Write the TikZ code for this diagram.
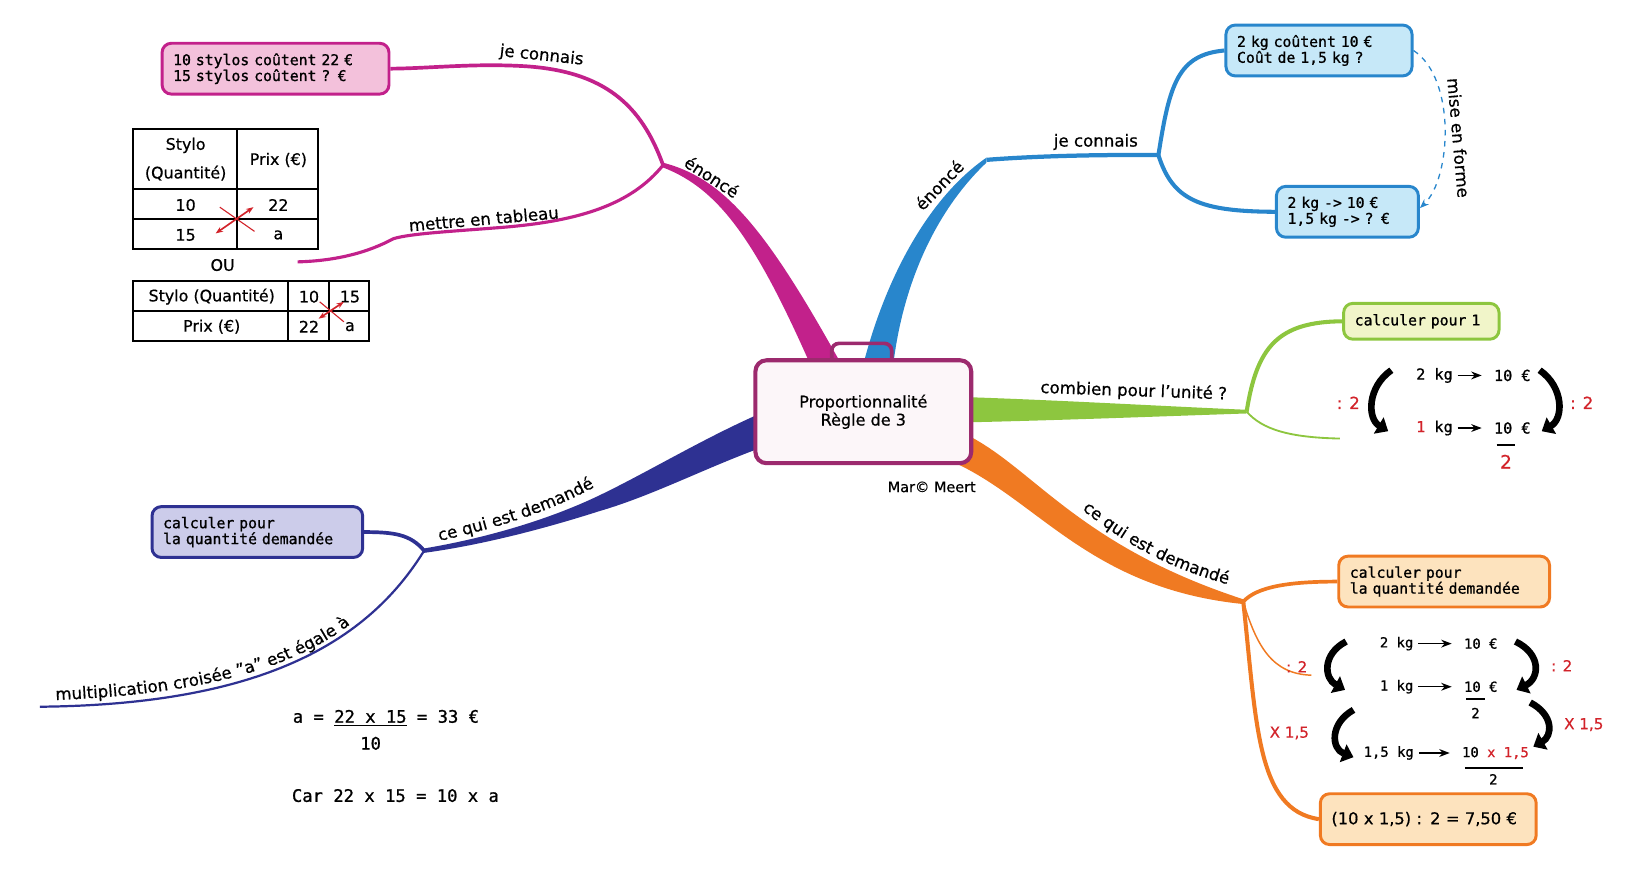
\documentclass[tikz,border=0pt]{standalone}
\usepackage{fontspec}
\setmainfont{DejaVu Sans}[FakeBold=0.6]
\newfontfamily\monofont{DejaVu Sans Mono}[FakeBold=1]
\usetikzlibrary{arrows.meta, positioning, decorations.text, backgrounds}
\definecolor{EnonceMagenta}{RGB}{194, 33, 139}
\definecolor{EnonceBlue}{RGB}{40, 134, 204}
\definecolor{UniteGreen}{RGB}{141, 198, 63}
\definecolor{DemandeOrange}{RGB}{240, 122, 34}
\definecolor{DemandeNavy}{RGB}{46, 49, 146}
\definecolor{CentreBorder}{RGB}{156, 42, 110}
\definecolor{RedMark}{RGB}{210, 35, 42}
\definecolor{PinkFill}{RGB}{243, 193, 219}
\definecolor{BlueFill}{RGB}{198, 232, 248}
\definecolor{GreenFill}{RGB}{241, 245, 201}
\definecolor{OrangeFill}{RGB}{253, 227, 190}
\definecolor{NavyFill}{RGB}{204, 204, 234}
\definecolor{CentreFill}{RGB}{252, 246, 249}
\newcommand{\lblfont}{\fontsize{9}{10}\selectfont}
\newcommand{\boxfont}{\monofont\fontsize{8}{8.6}\selectfont}
\newcommand{\calcfont}{\monofont\fontsize{7.5}{8}\selectfont}
\newcommand{\tabfont}{\fontsize{8.6}{15.5}\selectfont}
\newcommand{\redtxt}[1]{\textcolor{RedMark}{#1}}

\begin{document}
\begin{tikzpicture}[
    x=0.02cm, y=-0.02cm, % one unit = one pixel of the reference
    >=Stealth,
    mapbox/.style={draw, rounded corners=5pt, line width=1.6pt, inner xsep=6pt, inner ysep=3pt, minimum height=27.5pt, align=left, font=\boxfont},
    lbl/.style={font=\lblfont, inner sep=1pt},
    redlbl/.style={text=RedMark, font=\lblfont, inner sep=1pt},
    twig/.style={line width=2pt},
    bendarrow/.style={line width=3.6pt, -{Triangle[length=6pt,width=10pt]}},
    calcnum/.style={font=\calcfont, inner sep=1.5pt},
    steparrow/.style={->, line width=0.6pt, shorten >=5pt, shorten <=1pt},
    formula/.style={font=\monofont\fontsize{9.3}{10}\selectfont, inner sep=1pt},
    tabcell/.style={font=\tabfont, inner sep=1pt, align=center},
    tabline/.style={line width=0.6pt},
    crossline/.style={RedMark, line width=0.6pt},
    crossarrow/.style={RedMark, line width=0.9pt, {Stealth[length=4pt]}-{Stealth[length=4pt]}}
]
\useasboundingbox (0,0) rectangle (1568,839);

% --- Junctions and free ends of the branches ---
\coordinate (jStylo) at (630.5,157);
\coordinate (jKilo) at (938,152);
\coordinate (jKiloFork) at (1101.5,147.5);
\coordinate (jUnite) at (1185.4,391.4);
\coordinate (jDemOr) at (1182.2,572.1);
\coordinate (jDemNv) at (403.3,523.6);
\coordinate (tableEnd) at (283,249);
\coordinate (uniteEnd) at (1274,417);
\coordinate (orTwigEnd) at (1247,642);
\coordinate (croiseeEnd) at (38,672);

% --- Central topic ---
\node[draw=CentreBorder, fill=CentreFill, line width=2.2pt, rounded corners=6pt,
      minimum width=116.8pt, minimum height=55.7pt, align=center,
      font=\fontsize{8.7}{8.2}\selectfont] (centre) at (820.9,391.5) {Proportionnalité\\Règle de 3};
\node[font=\fontsize{7.8}{9}\selectfont] (auteur) at (886,463) {Mar© Meert};

% --- Boxes ---
\node[mapbox, draw=EnonceMagenta, fill=PinkFill, text width=110.8pt] (stylos) at (262,65.3) {10 stylos coûtent 22 €\\15 stylos coûtent ? €};
\node[mapbox, draw=EnonceBlue, fill=BlueFill, text width=88.7pt] (kiloBox) at (1254.2,48) {2 kg coûtent 10 €\\Coût de 1,5 kg ?};
\node[mapbox, draw=EnonceBlue, fill=BlueFill, text width=64.8pt] (kiloForm) at (1281.2,201.4) {2 kg -> 10 €\\1,5 kg -> ? €};
\node[mapbox, draw=UniteGreen, fill=GreenFill, text width=72.1pt, minimum height=19.4pt] (unite) at (1351.5,305.5) {calculer pour 1};
\node[mapbox, draw=DemandeOrange, fill=OrangeFill, text width=102.1pt] (quantOr) at (1373.2,553) {calculer pour\\la quantité demandée};
\node[mapbox, draw=DemandeOrange, fill=OrangeFill, text width=104.8pt, font=\fontsize{8.8}{9}\selectfont] (resultat) at (1358.1,778.9) {(10 x 1,5) : 2 = 7,50 €};
\node[mapbox, draw=DemandeNavy, fill=NavyFill, text width=102pt] (quantNv) at (244.7,505.9) {calculer pour\\la quantité demandée};

% --- Thin branches ---
\draw[twig, EnonceMagenta] (jStylo) .. controls (610,100) and (575,68) .. (500,63) .. controls (450,60) and (410,65) .. (stylos.east);
\draw[twig, EnonceMagenta, line width=1.7pt] (jStylo) .. controls (600,195) and (550,210) .. (480,216) .. controls (430,220) and (390,222) .. (374,227) .. controls (350,240) and (320,248) .. (tableEnd);
\draw[twig, EnonceBlue, line width=2.3pt] (jKilo) .. controls (990,148) and (1050,147) .. (jKiloFork);
\draw[twig, EnonceBlue, line width=2.2pt] (jKiloFork) .. controls (1112,80) and (1120,52) .. (kiloBox.west);
\draw[twig, EnonceBlue, line width=2.2pt] (jKiloFork) .. controls (1115,190) and (1140,201) .. (kiloForm.west);
\draw[EnonceBlue, dashed, line width=0.7pt, -{Stealth[length=5pt]}] (kiloBox.east) .. controls (1385,75) and (1380,170) .. ([yshift=2pt]kiloForm.east);
\draw[twig, UniteGreen, line width=2.2pt] (jUnite) .. controls (1195,330) and (1215,306) .. (unite.west);
\draw[UniteGreen, line width=1pt] (jUnite) .. controls (1200,408) and (1225,416) .. (uniteEnd);
\draw[twig, DemandeOrange] (jDemOr) .. controls (1195,558) and (1225,553) .. (quantOr.west);
\draw[DemandeOrange, line width=0.8pt] (jDemOr) .. controls (1195,615) and (1210,641) .. (orTwigEnd);
\draw[twig, DemandeOrange, line width=2.2pt] (jDemOr) .. controls (1195,690) and (1195,770) .. (resultat.west);
\draw[twig, DemandeNavy] (jDemNv) .. controls (390,508) and (375,506) .. (quantNv.east);
\draw[DemandeNavy, line width=1.2pt] (jDemNv) .. controls (350,610) and (250,670) .. (croiseeEnd);

% --- Main branches (tapered), behind the central topic ---
\begin{scope}[on background layer]
\fill[EnonceMagenta] (802,350) .. controls (730,220) and (690,170) .. ([yshift=1.3pt]jStylo) -- ([yshift=-1.3pt]jStylo) .. controls (685,180) and (720,232) .. (772,350) -- cycle;
\fill[EnonceBlue] (820,350) .. controls (840,270) and (880,190) .. ([yshift=1.2pt]jKilo) -- ([yshift=-1.5pt]jKilo) .. controls (890,200) and (858,270) .. (849,350) -- cycle;
\fill[UniteGreen] (900,377) .. controls (1000,380) and (1100,386) .. ([yshift=1pt]jUnite) -- ([yshift=-1pt]jUnite) .. controls (1100,396) and (1000,400) .. (900,402) -- cycle;
\fill[DemandeOrange] (912,410) .. controls (980,440) and (1020,517) .. ([yshift=1.3pt]jDemOr) -- ([yshift=-1.3pt]jDemOr) .. controls (1040,560) and (990,480) .. (912,442) -- cycle;
\fill[DemandeNavy] (740,386) .. controls (680,410) and (620,447) .. (570,471) .. controls (520,495) and (460,512) .. ([yshift=1.2pt]jDemNv) -- ([yshift=-1.2pt]jDemNv) .. controls (460,518) and (520,502) .. (570,486) .. controls (625,470) and (680,440) .. (740,420) -- cycle;
% handle of the central box
\draw[CentreBorder, line width=2pt, rounded corners=4pt] (790.8,352) rectangle (847.9,326.5);
\end{scope}

% --- Branch labels ---
\node[lbl, rotate=-33] (enonceMag) at (677,168) {énoncé};
\node[lbl, rotate=-6] (connaisMag) at (515,53) {je connais};
\node[lbl, rotate=5] (tableauLbl) at (460,208) {mettre en tableau};
\node[lbl, rotate=46] (enonceBlu) at (893,176) {énoncé};
\node[lbl] (connaisBlu) at (1042,135) {je connais};
\node[lbl, rotate=-85] (formeLbl) at (1387,131) {mise en forme};
\node[lbl, rotate=-2] (uniteLbl) at (1078,372) {combien pour l'unité ?};
\path[decorate, decoration={text along path, text={|\lblfont|ce qui est demandé}, text align={center}}]
    (1022,479) .. controls (1064,513) and (1104,539) .. (1176,558);
\path[decorate, decoration={text along path, text={|\lblfont|ce qui est demandé}, text align={center}}]
    (406,517) .. controls (470,503) and (525,487) .. (576,457);
\path[decorate, decoration={text along path, text={|\lblfont|multiplication croisée "a" est égale à}, text align={center}}]
    (44,666) .. controls (160,662) and (272,645) .. (340,588);

% --- Tables ---
\draw[tabline] (126.5,122.7) rectangle (302.4,236.8);
\draw[tabline] (225.4,122.7) -- (225.4,236.8) (126.5,179.7) -- (302.4,179.7) (126.5,208.2) -- (302.4,208.2);
\node[tabcell] (t1Stylo) at (176.5,151.3) {Stylo\\(Quantité)};
\node[tabcell] (t1Prix) at (264.7,152.1) {Prix (€)};
\node[tabcell] (t1a) at (176.5,194.9) {10};
\node[tabcell] (t1b) at (264.7,194.9) {22};
\node[tabcell] (t1c) at (176.5,223.4) {15};
\node[tabcell] (t1d) at (264.7,223.4) {a};
\draw[crossline] (209,197) -- (242,220);
\draw[crossarrow] (205,222) -- (241,197);
\node[tabcell] (ou) at (211.7,252) {OU};
\draw[tabline] (126.5,267.2) rectangle (350.9,324.2);
\draw[tabline] (273.8,267.2) -- (273.8,324.2) (312.8,267.2) -- (312.8,324.2) (126.5,295.7) -- (350.9,295.7);
\node[tabcell] (t2Stylo) at (201.3,282.1) {Stylo (Quantité)};
\node[tabcell] (t2a) at (293.8,282.1) {10};
\node[tabcell] (t2b) at (332.8,282.1) {15};
\node[tabcell] (t2Prix) at (201.3,310.6) {Prix (€)};
\node[tabcell] (t2c) at (293.8,310.6) {22};
\node[tabcell] (t2d) at (332.8,310.6) {a};
\draw[crossline] (304,287) -- (327,306);
\draw[crossarrow] (303,303) -- (327,287);

% --- Cross multiplication ---
\node[formula] (egal) at (367,683) {a = \underline{22 x 15} = 33 €};
\node[formula] (denom) at (352.4,706.8) {10};
\node[formula] (car) at (376,756.5) {Car 22 x 15 = 10 x a};

% --- Unit value ---
\node[calcnum, font=\monofont\fontsize{8.2}{9}\selectfont] (g2kg) at (1364,357) {2 kg};
\node[calcnum, font=\monofont\fontsize{8.2}{9}\selectfont] (g10) at (1438,357) {10 €};
\node[calcnum, font=\monofont\fontsize{8.2}{9}\selectfont] (g1kg) at (1364,407) {\redtxt{1} kg};
\node[calcnum, font=\monofont\fontsize{8.2}{9}\selectfont] (g10b) at (1438,407) {10 €};
\draw[line width=1.3pt] (1423,423) -- (1441,423);
\node[redlbl, font=\fontsize{10}{11}\selectfont] (g2) at (1432,439) {2};
\draw[steparrow] (g2kg) -- (g10);
\draw[steparrow] (g1kg) -- (g10b);
\draw[bendarrow] (1323,352) .. controls (1300,368) and (1300,398) .. (1320,410);
\draw[bendarrow] (1464,352) .. controls (1487,368) and (1487,398) .. (1466,410);
\node[redlbl] (gDivL) at (1282,383) {: 2};
\node[redlbl] (gDivR) at (1504,383) {: 2};

% --- Asked quantity ---
\node[calcnum] (o2kg) at (1328,612) {2 kg};
\node[calcnum] (o10) at (1408,612) {10 €};
\node[calcnum] (o1kg) at (1328,653) {1 kg};
\node[calcnum] (o10b) at (1408,653) {10 €};
\draw[line width=1pt] (1394,665) -- (1412,665);
\node[calcnum] (o2b) at (1403,678) {2};
\node[calcnum] (o15kg) at (1320.5,716) {1,5 kg};
\node[calcnum] (o10c) at (1422,716) {10 \redtxt{x 1,5}};
\draw[line width=1pt] (1393,730) -- (1448,730);
\node[calcnum] (o2c) at (1420,741) {2};
\draw[steparrow] (o2kg) -- (o10);
\draw[steparrow] (o1kg) -- (o10b);
\draw[steparrow] (o15kg) -- (o10c);
\draw[bendarrow] (1280,610) .. controls (1257,622) and (1259,645) .. (1279,656);
\draw[bendarrow] (1441,610) .. controls (1466,622) and (1464,645) .. (1442,656);
\draw[bendarrow] (1287,675) .. controls (1264,688) and (1266,712) .. (1287,720);
\draw[bendarrow] (1455,668) .. controls (1478,680) and (1476,700) .. (1458,710);
\node[redlbl, font=\fontsize{8.2}{9}\selectfont] (oDivL) at (1233,634) {: 2};
\node[redlbl, font=\fontsize{8.2}{9}\selectfont] (oDivR) at (1485,633) {: 2};
\node[redlbl, font=\fontsize{8.2}{9}\selectfont] (oMulL) at (1226,697) {X 1,5};
\node[redlbl, font=\fontsize{8.2}{9}\selectfont] (oMulR) at (1506,689) {X 1,5};

\end{tikzpicture}
\end{document}
